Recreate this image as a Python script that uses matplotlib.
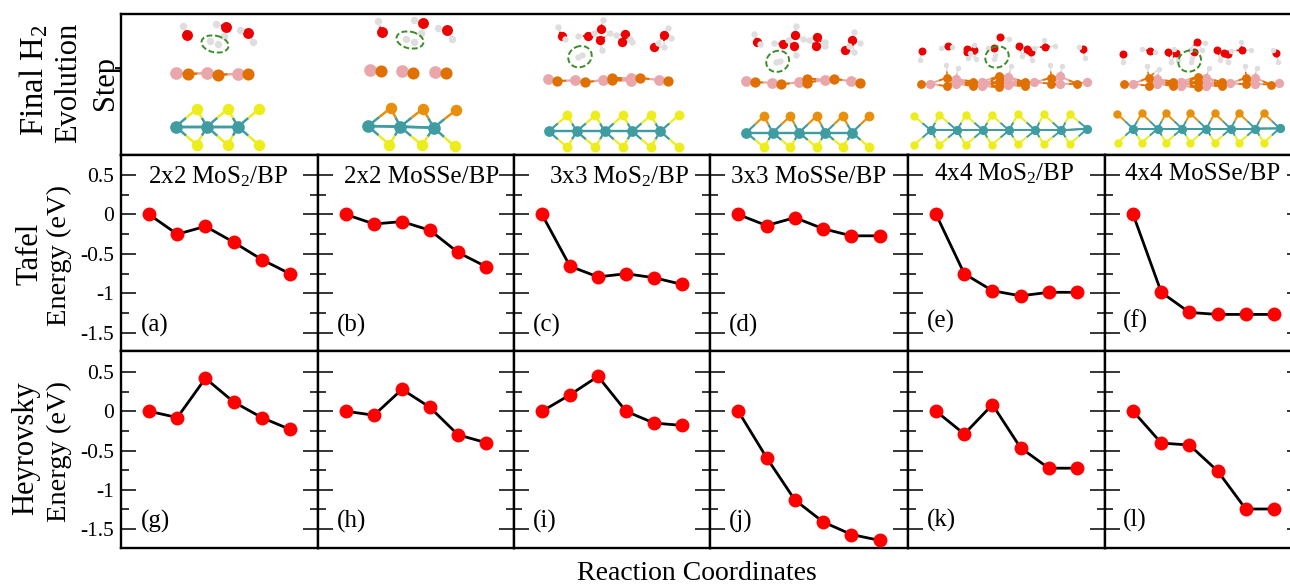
import matplotlib
matplotlib.use("Agg")
import matplotlib.pyplot as plt
from matplotlib.patches import Ellipse

plt.rcParams['font.family'] = ['Liberation Serif', 'DejaVu Serif']
plt.rcParams['mathtext.fontset'] = 'custom'
plt.rcParams['mathtext.rm'] = 'Liberation Serif'
plt.rcParams['mathtext.default'] = 'regular'

W, H = 1290, 587

# --------------------------
# Energy profiles (eV)
# --------------------------
steps = [1, 2, 3, 4, 5, 6]
tafel_a = [0, -0.25, -0.15, -0.35, -0.57, -0.75]
tafel_b = [0, -0.12, -0.09, -0.20, -0.48, -0.66]
tafel_c = [0, -0.655, -0.79, -0.75, -0.80, -0.885]
tafel_d = [0, -0.14, -0.04, -0.18, -0.27, -0.27]
tafel_e = [0, -0.75, -0.965, -1.03, -0.985, -0.985]
tafel_f = [0, -0.985, -1.24, -1.265, -1.265, -1.265]
heyr_g = [0, -0.08, 0.42, 0.12, -0.08, -0.23]
heyr_h = [0, -0.05, 0.28, 0.05, -0.30, -0.40]
heyr_i = [0, 0.21, 0.445, 0, -0.15, -0.18]
heyr_j = [0, -0.59, -1.13, -1.41, -1.57, -1.645]
heyr_k = [0, -0.29, 0.085, -0.465, -0.725, -0.725]
heyr_l = [0, -0.405, -0.43, -0.76, -1.245, -1.245]

tafel = [tafel_a, tafel_b, tafel_c, tafel_d, tafel_e, tafel_f]
heyr = [heyr_g, heyr_h, heyr_i, heyr_j, heyr_k, heyr_l]

titles = ['2x2 MoS$_2$/BP', '2x2 MoSSe/BP', '3x3 MoS$_2$/BP',
          '3x3 MoSSe/BP', '4x4 MoS$_2$/BP', '4x4 MoSSe/BP']
title_x = [148, 344, 549, 731, 934, 1125]
title_y = [183, 183, 183, 183, 180, 180]
labels_top = ['(a)', '(b)', '(c)', '(d)', '(e)', '(f)']
labels_bot = ['(g)', '(h)', '(i)', '(j)', '(k)', '(l)']
label_x = [141, 337, 533, 729, 927, 1123]
label_y_top = [332, 332, 332, 332, 328, 328]
label_y_bot = [528, 528, 528, 528, 527, 527]
major_ticks = [0.5, 0, -0.5, -1, -1.5]
major_text = ['0.5', '0', '-0.5', '-1', '-1.5']
minor_ticks = [0.25, -0.25, -0.75, -1.25]
panel_edges = [121, 318, 514, 710, 908, 1105, 1302]

# --------------------------
# Atom positions in the top strip
# --------------------------
o_1 = [(80, 64), (197, 38), (265, 56)]
h_1 = [(69, 35), (168, 30), (193, 65), (240, 47), (279, 83)]
h2_1 = [(150, 82), (173, 91)]
pink_1 = [(48, 177), (142, 177), (233, 180)]
pb_1 = [(83, 180), (173, 182), (265, 180)]
mo_1 = [(47, 338), (141, 338), (234, 338)]
top_1 = [(110, 285), (203, 285), (296, 286)]
bot_1 = [(110, 392), (203, 393), (296, 392)]

o_2 = [(80, 53), (205, 27), (277, 47)]
h_2 = [(69, 22), (176, 18), (199, 58), (248, 41), (290, 76)]
h2_2 = [(153, 74), (178, 84)]
pink_2 = [(45, 167), (142, 171), (239, 175)]
pb_2 = [(79, 172), (175, 178), (272, 177)]
mo_2 = [(39, 336), (136, 338), (236, 341)]
top_2 = [(107, 282), (204, 284), (303, 288)]
bot_2 = [(103, 392), (201, 394), (299, 397)]

o_3 = [(80, 66), (158, 67), (197, 45), (195, 79), (269, 60), (262, 85), (387, 63), (357, 99)]
h_3 = [(68, 40), (91, 76), (130, 65), (176, 58), (204, 17), (224, 58), (200, 108), (244, 64),
       (285, 75), (290, 85), (399, 41), (409, 72), (368, 88), (387, 99)]
h2_3 = [(128, 128), (140, 122)]
pink_3 = [(38, 195), (121, 199), (205, 198), (289, 193), (289, 200), (371, 198)]
pb_3 = [(66, 201), (149, 205), (232, 192), (232, 199), (316, 192), (399, 200)]
mo_3 = [(41, 352), (125, 352), (209, 352), (292, 352), (376, 352)]
top_3 = [(97, 304), (181, 304), (264, 304), (347, 304), (431, 304)]
bot_3 = [(97, 400), (181, 400), (264, 400), (347, 400), (431, 400)]

o_4 = [(67, 84), (144, 90), (181, 64), (176, 97), (247, 70), (243, 95), (352, 79), (331, 107)]
h_4 = [(56, 59), (76, 90), (116, 87), (158, 78), (183, 37), (205, 74), (183, 124), (223, 79),
       (270, 84), (270, 96), (358, 53), (375, 88), (342, 95), (356, 113)]
h2_4 = [(123, 144), (134, 140)]
pink_4 = [(32, 200), (111, 206), (191, 205), (270, 197), (348, 202)]
pb_4 = [(59, 205), (138, 211), (216, 194), (216, 206), (296, 194), (375, 206)]
mo_4 = [(34, 356), (113, 356), (192, 356), (271, 356), (351, 356)]
top_4 = [(87, 306), (166, 306), (245, 306), (323, 306), (403, 306)]
bot_4 = [(87, 400), (166, 400), (245, 400), (323, 400), (403, 400)]

o_5 = [(52, 78), (130, 64), (187, 72), (187, 80), (208, 76), (268, 70), (285, 36), (343, 64),
       (365, 72), (378, 80), (421, 65), (535, 72)]
h_5 = [(44, 104), (108, 68), (141, 65), (190, 100), (195, 85), (212, 102), (207, 60), (248, 68),
       (311, 41), (351, 94), (388, 68), (380, 104), (417, 46), (449, 64), (523, 66), (540, 100),
       (124, 120), (159, 128), (319, 124), (435, 120), (472, 124)]
h2_5 = [(270, 90), (268, 102)]
pink_5 = [(75, 176), (153, 162), (153, 176), (231, 170), (231, 183), (310, 155), (310, 172),
          (310, 181), (388, 172), (465, 154), (465, 176), (545, 170)]
pb_5 = [(49, 177), (127, 158), (127, 184), (205, 170), (205, 183), (283, 153), (283, 172),
        (283, 187), (361, 172), (361, 183), (439, 158), (439, 176), (517, 177)]
mo_5 = [(78, 316), (156, 316), (234, 316), (312, 316), (391, 316), (469, 316), (547, 311)]
top_5 = [(26, 272), (103, 270), (182, 270), (260, 270), (338, 268), (416, 268), (494, 268)]
bot_5 = [(26, 360), (103, 360), (182, 360), (260, 360), (338, 358), (416, 358), (494, 358)]

o_6 = [(53, 86), (135, 78), (190, 80), (212, 84), (268, 80), (277, 50), (337, 76), (358, 84),
       (368, 88), (410, 75), (514, 84)]
h_6 = [(53, 112), (112, 73), (150, 81), (197, 112), (207, 72), (218, 104), (300, 54), (254, 74),
       (290, 74), (346, 104), (368, 112), (378, 78), (408, 52), (437, 75), (503, 76), (520, 112),
       (127, 123), (163, 131), (312, 128), (420, 124), (455, 128)]
h2_6 = [(262, 100), (258, 112)]
pink_6 = [(83, 177), (156, 162), (156, 176), (229, 170), (229, 183), (304, 158), (304, 175),
          (304, 182), (376, 175), (450, 158), (450, 176), (523, 175)]
pb_6 = [(58, 177), (131, 158), (131, 182), (205, 170), (205, 183), (278, 155), (278, 172),
        (278, 187), (351, 172), (351, 183), (424, 158), (424, 178), (497, 179)]
mo_6 = [(84, 311), (158, 311), (231, 311), (304, 311), (377, 311), (451, 311), (524, 310)]
top_6 = [(36, 266), (110, 265), (183, 265), (256, 265), (329, 265), (402, 265), (476, 265)]
bot_6 = [(38, 353), (110, 353), (183, 353), (256, 353), (329, 353), (402, 353), (476, 353)]

MO = '#3f9ca1'
S = '#eded1c'
SE = '#e8900c'
PINK = '#e9a7ac'
PB = '#e07002'
OX = '#ec0000'
HY = '#dedede'

# origin, top colour, ring (cx, cy, w, h, angle), Mo-S cutoff, atom scale
strips = [
    dict(org=(160, 14), o=o_1, h=h_1, h2=h2_1, pink=pink_1, pb=pb_1, mo=mo_1, top=top_1, bot=bot_1,
         topc=S, ring=(165, 90, 82, 50, 12), cut=100, k=1.15),
    dict(org=(355, 14), o=o_2, h=h_2, h2=h2_2, pink=pink_2, pb=pb_2, mo=mo_2, top=top_2, bot=bot_2,
         topc=SE, ring=(165, 78, 82, 50, 12), cut=105, k=1.15),
    dict(org=(535, 14), o=o_3, h=h_3, h2=h2_3, pink=pink_3, pb=pb_3, mo=mo_3, top=top_3, bot=bot_3,
         topc=S, ring=(135, 128, 72, 62, -25), cut=90, k=0.98),
    dict(org=(735, 14), o=o_4, h=h_4, h2=h2_4, pink=pink_4, pb=pb_4, mo=mo_4, top=top_4, bot=bot_4,
         topc=SE, ring=(128, 142, 70, 62, -25), cut=85, k=0.98),
    dict(org=(905, 25), o=o_5, h=h_5, h2=h2_5, pink=pink_5, pb=pb_5, mo=mo_5, top=top_5, bot=bot_5,
         topc=S, ring=(276, 96, 72, 62, -25), cut=82, k=0.84),
    dict(org=(1105, 25), o=o_6, h=h_6, h2=h2_6, pink=pink_6, pb=pb_6, mo=mo_6, top=top_6, bot=bot_6,
         topc=SE, ring=(254, 108, 70, 62, -30), cut=80, k=0.84),
]


def add_axes(fig, x0, x1, y_top, y_bot):
    return fig.add_axes([x0 / W, 1 - y_bot / H, (x1 - x0) / W, (y_bot - y_top) / H])


def draw_bonds(ax, org, a, ca, b, cb, cut, lw):
    # half-coloured sticks between every pair closer than cut
    for ax_, ay_ in a:
        for bx_, by_ in b:
            if (ax_, ay_) == (bx_, by_):
                continue
            if (ax_ - bx_) ** 2 + (ay_ - by_) ** 2 > cut ** 2:
                continue
            x1, y1 = org[0] + ax_ / 3, org[1] + ay_ / 3
            x2, y2 = org[0] + bx_ / 3, org[1] + by_ / 3
            xm, ym = (x1 + x2) / 2, (y1 + y2) / 2
            ax.plot([x1, xm], [y1, ym], color=ca, lw=lw, zorder=2, solid_capstyle='butt')
            ax.plot([xm, x2], [ym, y2], color=cb, lw=lw, zorder=2, solid_capstyle='butt')


def draw_atoms(ax, org, pts, color, d, z=3):
    xs = [org[0] + p[0] / 3 for p in pts]
    ys = [org[1] + p[1] / 3 for p in pts]
    ax.scatter(xs, ys, s=(d * 0.72) ** 2, color=color, linewidths=0, zorder=z)


fig = plt.figure(figsize=(W / 100, H / 100), dpi=100)

# --------------------------
# Top strip with the structures
# --------------------------
ax_top = add_axes(fig, 121, 1302, 14, 155)
ax_top.set_xlim(121, 1302)
ax_top.set_ylim(155, 14)
ax_top.set_xticks([])
ax_top.set_yticks([68])
ax_top.set_yticklabels([])
ax_top.tick_params(axis='y', direction='out', length=4.5, width=1.3)
for sp in ax_top.spines.values():
    sp.set_linewidth(1.7)

for st in strips:
    org, k = st['org'], st['k']
    lw = 1.3 * k + 0.3
    draw_bonds(ax_top, org, st['mo'], MO, st['mo'], MO, st['cut'], lw)
    draw_bonds(ax_top, org, st['mo'], MO, st['top'], st['topc'], st['cut'], lw)
    draw_bonds(ax_top, org, st['mo'], MO, st['bot'], S, st['cut'], lw)
    draw_bonds(ax_top, org, st['pink'], PINK, st['pb'], PB, 62, lw)
    draw_bonds(ax_top, org, st['pb'], PB, st['pb'], PB, 30, lw)
    draw_bonds(ax_top, org, st['o'], OX, st['h'], HY, 36, lw * 0.8)
    draw_bonds(ax_top, org, st['h'], HY, st['pb'], PB, 42, lw * 0.8)
    draw_bonds(ax_top, org, st['h'], HY, st['pink'], PINK, 42, lw * 0.8)
    draw_atoms(ax_top, org, st['mo'], MO, 11 * k)
    draw_atoms(ax_top, org, st['top'], st['topc'], 10 * k)
    draw_atoms(ax_top, org, st['bot'], S, 10 * k)
    draw_atoms(ax_top, org, st['pink'], PINK, 11 * k)
    draw_atoms(ax_top, org, st['pb'], PB, 10.5 * k)
    draw_atoms(ax_top, org, st['o'], OX, 9.5 * k, z=4)
    draw_atoms(ax_top, org, st['h'], HY, 6.5 * k, z=4)
    draw_atoms(ax_top, org, st['h2'], HY, 6.5 * k, z=4)
    cx, cy, w, h, ang = st['ring']
    ax_top.add_patch(Ellipse((org[0] + cx / 3, org[1] + cy / 3), w / 3, h / 3, angle=ang,
                             fill=False, ec='#3d8c2a', lw=1.4, ls=(0, (3, 1.4)), zorder=5))

# --------------------------
# Energy panels
# --------------------------
rows = [(tafel, 155, 351, (-1.728, 0.753), labels_top, label_y_top),
        (heyr, 351, 548, (-1.742, 0.768), labels_bot, label_y_bot)]

for series, y_top, y_bot, ylim, plabels, plabel_y in rows:
    for i, vals in enumerate(series):
        ax = add_axes(fig, panel_edges[i], panel_edges[i + 1], y_top, y_bot)
        ax.plot(steps, vals, color='black', lw=2.0, zorder=3, clip_on=False)
        ax.plot(steps, vals, ls='none', marker='o', ms=10, mfc='#ff0000', mec='none',
                zorder=4, clip_on=False)
        ax.set_xlim(0, 7)
        ax.set_ylim(*ylim)
        ax.set_xticks([])
        ax.set_yticks(major_ticks)
        ax.set_yticks(minor_ticks, minor=True)
        ax.set_yticklabels(major_text if i == 0 else [])
        ax.tick_params(axis='y', which='major', direction='in', left=True, right=True,
                       length=11, width=1.1, labelsize=15.5, pad=5)
        ax.tick_params(axis='y', which='minor', direction='in', left=True, right=True,
                       length=5.5, width=1.1)
        for sp in ax.spines.values():
            sp.set_linewidth(1.7)
        fig.text(label_x[i] / W, 1 - plabel_y[i] / H, plabels[i], fontsize=18, va='baseline', ha='left')

for i, t in enumerate(titles):
    fig.text(title_x[i] / W, 1 - title_y[i] / H, t, fontsize=18, va='baseline', ha='left')

# --------------------------
# Outer labels
# --------------------------
side_labels = [
    ('Final H$_2$', 34, 80, 23.5),
    ('Evolution', 69, 83, 22),
    ('Step', 106, 83, 22),
    ('Tafel', 30, 254, 22),
    ('Energy (eV)', 59, 255, 20.5),
    ('Heyrovsky', 26, 448, 22),
    ('Energy (eV)', 59, 451, 20.5),
]
for txt, x, y, size in side_labels:
    fig.text(x / W, 1 - y / H, txt, rotation=90, fontsize=size, ha='center', va='center')

fig.text(697 / W, 1 - 574 / H, 'Reaction Coordinates', fontsize=20, ha='center', va='center')

fig.savefig('out.png', dpi=100)
